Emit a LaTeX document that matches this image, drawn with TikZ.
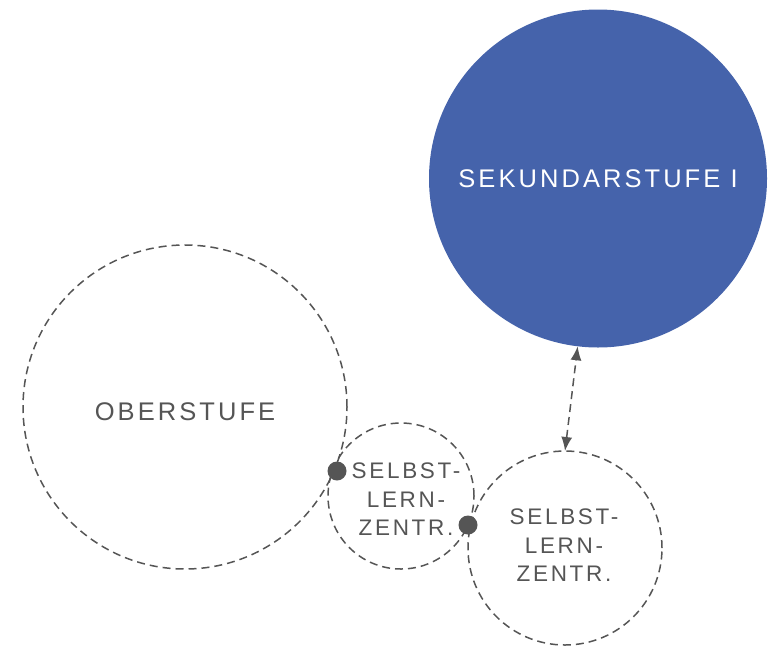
\documentclass[tikz,border=0pt]{standalone}
\usepackage{fontspec}
\newfontfamily\lbl[LetterSpace=12]{Liberation Sans}
\usetikzlibrary{arrows.meta}
\definecolor{ink}{HTML}{555555}
\definecolor{blueC}{HTML}{4563AB}
\begin{document}
\begin{tikzpicture}[x=1pt,y=-1pt,
  ring/.style={circle,draw=ink,line width=1.5pt,dash pattern=on 8pt off 5pt,inner sep=0pt,outer sep=0pt},
  lab/.style={text=ink,font=\lbl\fontsize{25.5}{30}\selectfont,align=center,inner sep=0pt},
  small/.style={text=ink,font=\lbl\fontsize{22.5}{28.5}\selectfont,align=center,inner sep=0pt},
  dot/.style={circle,fill=ink,inner sep=0pt,minimum size=19pt},
  link/.style={draw=ink,line width=1.5pt,dash pattern=on 8pt off 5pt,{Latex[length=14pt,width=11pt]}-{Latex[length=14pt,width=11pt]}}
]
\useasboundingbox (0,0) rectangle (778,646);
\node[circle,fill=blueC,minimum size=338pt,inner sep=0pt,outer sep=0pt] (sek) at (598,178.5) {};
\node[lab,text=white] (sekt) at (598,178.5) {SEKUNDARSTUFE I};
\node[ring,minimum size=324pt] (ober) at (185,407) {};
\node[lab] (obert) at (185,412) {OBERSTUFE};
\node[ring,minimum size=146pt] (slz1) at (401,496) {};
\node[small] (slz1t) at (406,499.5) {SELBST-\\LERN-\\ZENTR.};
\node[ring,minimum size=194pt] (slz2) at (565,548) {};
\node[small] (slz2t) at (564,545.5) {SELBST-\\LERN-\\ZENTR.};
\node[dot] (d1) at (337,471) {};
\node[dot] (d2) at (468,525) {};
\draw[link] (slz2.north) -- (sek);
\end{tikzpicture}
\end{document}
